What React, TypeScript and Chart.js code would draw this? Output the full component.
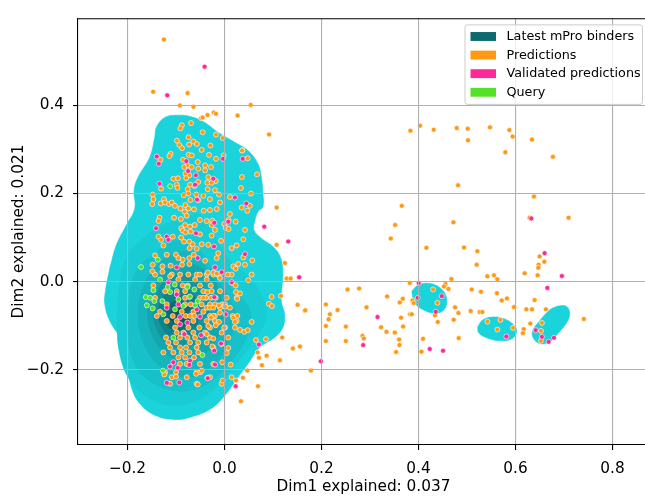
import React, { useEffect, useRef } from "react";
import { Chart, registerables } from "chart.js";

Chart.register(...registerables);

type P = [number, number];

// ---------- axes ----------
const xLimits: P = [-0.302, 0.875];
const yLimits: P = [-0.3713, 0.5982];
const xTickValues = [-0.2, 0, 0.2, 0.4, 0.6, 0.8];
const xTickLabels = ["−0.2", "0.0", "0.2", "0.4", "0.6", "0.8"];
const yTickValues = [-0.2, 0, 0.2, 0.4];
const yTickLabels = ["−0.2", "0.0", "0.2", "0.4"];
const xTitle = "Dim1 explained: 0.037";
const yTitle = "Dim2 explained: 0.021";

// ---------- legend ----------
const seriesNames = ["Latest mPro binders", "Predictions", "Validated predictions", "Query"];
const seriesColors = ["#0c6a6e", "#ff9914", "#ff2896", "#55e128"];

// ---------- KDE of "Latest mPro binders" (filled contour levels, outer -> inner) ----------
const kdeLevelColors = ["#1ad3db", "#19cbd3", "#18c1c9", "#16b5bd", "#14a6ae", "#12959d", "#108289", "#0e6d74", "#0c585e"];

const kdeLevel1: P[] = [
  [-0.2364, 0.0307], [-0.2228, 0.0834], [-0.2022, 0.1285], [-0.1849, 0.166], [-0.1864, 0.2074], [-0.1781, 0.2374],
  [-0.154, 0.2825], [-0.1437, 0.3276], [-0.1404, 0.3502], [-0.1231, 0.3727], [-0.0958, 0.3779], [-0.0684, 0.3743],
  [-0.0408, 0.3614], [-0.0134, 0.3389], [0.021, 0.3163], [0.0484, 0.2976], [0.069, 0.2674], [0.0758, 0.2374],
  [0.0793, 0.1998], [0.0793, 0.1698], [0.069, 0.1585], [0.0622, 0.136], [0.0607, 0.1172], [0.0758, 0.0983],
  [0.1034, 0.0758], [0.117, 0.0496], [0.1205, 0.0158], [0.1184, -0.0144], [0.117, -0.0444], [0.124, -0.0744],
  [0.1205, -0.1046], [0.1034, -0.1272], [0.0725, -0.1497], [0.0484, -0.1871], [0.0278, -0.2174], [0.0037, -0.2548],
  [-0.0272, -0.2886], [-0.0684, -0.3076], [-0.1026, -0.3134], [-0.1437, -0.3037], [-0.1746, -0.2773], [-0.1919, -0.2399],
  [-0.1987, -0.1948], [-0.2022, -0.1497], [-0.2193, -0.1195], [-0.2364, -0.0895], [-0.2467, -0.0519], [-0.2455, -0.0219],
];
const kdeBlobA: P[] = [
  [0.3861, -0.0219], [0.3985, -0.0083], [0.4191, -0.0038], [0.4397, -0.0106], [0.4541, -0.0264],
  [0.4582, -0.0489], [0.45, -0.067], [0.4314, -0.0715], [0.4108, -0.0647], [0.3923, -0.0489],
];
const kdeBlobB: P[] = [
  [0.522, -0.103], [0.5323, -0.0873], [0.5529, -0.0805], [0.5776, -0.085], [0.5962, -0.0985],
  [0.6023, -0.1143], [0.592, -0.1301], [0.5673, -0.1346], [0.5406, -0.1278], [0.5241, -0.1166],
];
const kdeBlobC: P[] = [
  [0.6868, -0.0557], [0.7033, -0.0557], [0.7115, -0.0692], [0.7074, -0.0895], [0.6868, -0.1188], [0.6703, -0.1369],
  [0.6518, -0.1414], [0.6374, -0.1301], [0.6353, -0.1121], [0.6497, -0.0895], [0.6703, -0.0647],
];
const kdeLevel2: P[] = [
  [-0.2214, -0.0782], [-0.2152, 0.0007], [-0.2008, 0.057], [-0.174, 0.0909], [-0.1328, 0.1247], [-0.0813, 0.145],
  [-0.0505, 0.1518], [-0.0196, 0.1021], [0.0072, 0.0525], [0.0484, 0.012], [0.0772, -0.0331], [0.0855, -0.0782],
  [0.0669, -0.1249], [0.034, -0.1737], [-0.0051, -0.2256], [-0.0505, -0.2661], [-0.0999, -0.2812], [-0.1534, -0.2654],
  [-0.1946, -0.2248], [-0.2173, -0.1571],
];
const kdeIsland: P[] = [
  [-0.0236, 0.251], [-0.028, 0.2605], [-0.0391, 0.2645], [-0.0502, 0.2605],
  [-0.0546, 0.251], [-0.0502, 0.2415], [-0.0391, 0.2375], [-0.028, 0.2415],
];
const kdeLevel3: P[] = [
  [-0.1987, -0.0557], [-0.1905, 0.0007], [-0.1699, 0.0413], [-0.1472, 0.0593], [-0.1266, 0.0796], [-0.1019, 0.0909],
  [-0.0731, 0.0976], [-0.0463, 0.0638], [-0.0196, 0.0232], [0.0216, -0.0219], [0.0484, -0.0557], [0.0546, -0.0895],
  [0.0422, -0.1346], [0.0154, -0.1797], [-0.0257, -0.2248], [-0.071, -0.2474], [-0.1225, -0.2429], [-0.1637, -0.218],
  [-0.1884, -0.1797], [-0.1987, -0.1233],
];
const kdeLevel4: P[] = [
  [0.026, -0.075], [0.0, -0.02], [-0.04, 0.035], [-0.076, 0.068], [-0.127, 0.0488], [-0.1643, -0.0035],
  [-0.178, -0.075], [-0.1643, -0.1465], [-0.127, -0.1988], [-0.076, -0.218], [-0.03, -0.195], [0.008, -0.142],
];
const kdeLevel5: P[] = [
  [-0.003, -0.069], [-0.0135, -0.0137], [-0.042, 0.0267], [-0.081, 0.0415], [-0.12, 0.0267], [-0.1485, -0.0137],
  [-0.159, -0.069], [-0.1485, -0.1243], [-0.12, -0.1647], [-0.081, -0.1795], [-0.042, -0.1647], [-0.0135, -0.1243],
];
const kdeLevel6: P[] = [
  [-0.0299, -0.067], [-0.0378, -0.0252], [-0.0592, 0.0053], [-0.0886, 0.0165], [-0.118, 0.0053], [-0.1394, -0.0252],
  [-0.1473, -0.067], [-0.1394, -0.1088], [-0.118, -0.1393], [-0.0886, -0.1505], [-0.0592, -0.1393], [-0.0378, -0.1088],
];
const kdeLevel7: P[] = [
  [-0.0505, -0.0715], [-0.0563, -0.0433], [-0.0721, -0.0227], [-0.0937, -0.0151], [-0.1153, -0.0227], [-0.1311, -0.0433],
  [-0.1369, -0.0715], [-0.1311, -0.0997], [-0.1153, -0.1203], [-0.0937, -0.1279], [-0.0721, -0.1203], [-0.0563, -0.0997],
];
const kdeLevel8: P[] = [
  [-0.0648, -0.078], [-0.0688, -0.061], [-0.0798, -0.0486], [-0.0948, -0.044], [-0.1098, -0.0486], [-0.1208, -0.061],
  [-0.1248, -0.078], [-0.1208, -0.095], [-0.1098, -0.1074], [-0.0948, -0.112], [-0.0798, -0.1074], [-0.0688, -0.095],
];
const kdeLevel9: P[] = [
  [-0.0795, -0.078], [-0.0817, -0.069], [-0.0877, -0.0624], [-0.096, -0.06], [-0.1043, -0.0624], [-0.1103, -0.069],
  [-0.1125, -0.078], [-0.1103, -0.087], [-0.1043, -0.0936], [-0.096, -0.096], [-0.0877, -0.0936], [-0.0817, -0.087],
];

// ---------- Predictions ----------
const predictionsUpper: P[] = [
  [-0.125, 0.55], [-0.147, 0.431], [-0.076, 0.428], [-0.092, 0.4], [-0.064, 0.397], [0.054, 0.401], [-0.022, 0.384],
  [-0.0175, 0.381], [-0.035, 0.378], [-0.048, 0.371], [0.027, 0.377], [0.092, 0.334], [0.037, 0.298], [0.067, 0.2435],
  [0.1075, 0.168],
  [-0.088, 0.355], [-0.069, 0.36], [-0.091, 0.348], [-0.098, 0.32], [-0.074, 0.328], [-0.093, 0.31], [-0.0875, 0.303],
  [-0.073, 0.311], [-0.064, 0.318], [-0.074, 0.288], [-0.0675, 0.2865], [-0.111, 0.29], [-0.1137, 0.285], [-0.132, 0.2765],
  [-0.0855, 0.2765], [-0.0766, 0.264], [-0.083, 0.26], [-0.0675, 0.26], [-0.0725, 0.2413], [-0.0807, 0.245],
  [-0.1054, 0.2336], [-0.0958, 0.2345], [-0.079, 0.235], [-0.1308, 0.211], [-0.0985, 0.22], [-0.097, 0.213], [-0.071, 0.22],
  [-0.062, 0.217], [-0.0758, 0.2097], [-0.148, 0.1975], [-0.0745, 0.1998], [-0.084, 0.196], [-0.058, 0.1975],
  [-0.1466, 0.187], [-0.1246, 0.187], [-0.0704, 0.185], [-0.149, 0.176], [-0.1314, 0.1773], [-0.1225, 0.1795],
  [-0.1143, 0.176], [-0.1087, 0.1795], [-0.102, 0.172], [-0.0807, 0.1736], [-0.091, 0.166], [-0.0745, 0.166],
  [-0.0628, 0.164], [-0.082, 0.1585], [-0.078, 0.1495], [-0.09, 0.142], [-0.134, 0.145], [-0.136, 0.1375], [-0.104, 0.145],
  [-0.0813, 0.1285], [-0.089, 0.121], [-0.071, 0.1247], [-0.0614, 0.1285], [-0.086, 0.1157], [-0.08, 0.1118],
  [-0.0696, 0.1134], [-0.136, 0.102], [-0.1067, 0.102], [-0.1308, 0.0947], [-0.0834, 0.0909], [-0.0896, 0.0999],
  [-0.0725, 0.0909], [-0.0655, 0.0848], [-0.0717, 0.0758], [-0.126, 0.0819], [-0.0573, 0.0744], [-0.143, 0.0593],
  [-0.119, 0.0609], [-0.0999, 0.0609], [-0.095, 0.0532], [-0.086, 0.0496], [-0.0725, 0.0532], [-0.0634, 0.0609],
  [-0.148, 0.0383], [-0.128, 0.0345], [-0.111, 0.036], [-0.0875, 0.0383], [-0.0725, 0.0397],
  [-0.045, 0.3727], [-0.045, 0.339], [-0.0175, 0.3337], [-0.0037, 0.326], [-0.029, 0.309], [-0.057, 0.3125], [-0.047, 0.299],
  [-0.032, 0.2877], [-0.0016, 0.2864], [-0.0175, 0.2787], [0.036, 0.2976], [0.0478, 0.28], [-0.055, 0.2713], [-0.04, 0.2638],
  [-0.0278, 0.26], [-0.04, 0.2525], [-0.054, 0.256], [-0.0334, 0.2374], [-0.018, 0.2284], [-0.0354, 0.2246],
  [-0.0264, 0.2246], [0.036, 0.2374], [-0.054, 0.2262], [0.034, 0.2126], [-0.0346, 0.2097], [-0.0196, 0.2074],
  [-0.0113, 0.1975], [0.0546, 0.1998], [0.0113, 0.1923], [-0.0437, 0.1946], [-0.03, 0.1871], [-0.0093, 0.1795],
  [-0.054, 0.1849], [0.0354, 0.1682], [0.047, 0.1608], [0.0525, 0.172], [-0.016, 0.1646], [-0.03, 0.1623],
  [-0.0428, 0.1608], [0.0113, 0.1533], [-0.0505, 0.1398], [-0.0367, 0.1375], [-0.0251, 0.1382], [0.0086, 0.1398],
  [-0.0004, 0.1308], [-0.0264, 0.1285], [0.0025, 0.1224], [0.0086, 0.1195], [-0.0196, 0.1172], [0.023, 0.136],
  [0.0422, 0.1172], [-0.0505, 0.1073], [-0.0264, 0.1044], [-0.0072, 0.0924], [0.0387, 0.096], [-0.047, 0.0848],
  [-0.0334, 0.0834], [0.0148, 0.0758], [0.0251, 0.0819], [0.0387, 0.0548], [0.0573, 0.048], [-0.0128, 0.0645],
  [-0.016, 0.0532], [-0.04, 0.0473], [0.0181, 0.0345], [0.0284, 0.0397], [0.023, 0.0293], [0.0422, 0.0383],
  [0.1246, 0.042], [0.1075, 0.0834],
];
const predictionsCore: P[] = [
  [-0.1431, 0.0158], [-0.1087, 0.0158], [-0.0916, 0.0158], [-0.0745, 0.0158], [-0.0573, 0.0158], [-0.0505, 0.0158],
  [-0.0367, 0.0158], [-0.0231, 0.0158], [-0.0128, 0.0158], [0.0148, 0.0158], [0.056, 0.0158],
  [-0.0951, 0.0045], [-0.0607, 0.0045], [-0.0367, 0.0045],
  [-0.1466, -0.009], [-0.0861, -0.009], [-0.0758, -0.009], [-0.0505, -0.009], [-0.0284, -0.009],
  [-0.1225, -0.0219], [-0.0984, -0.0219], [-0.0813, -0.0219], [-0.0437, -0.0219], [-0.0264, -0.0219], [-0.0093, -0.0219],
  [-0.1431, -0.037], [-0.0813, -0.037], [-0.0505, -0.037], [-0.0381, -0.037], [-0.0181, -0.037], [0.0045, -0.037], [0.0251, -0.037],
  [-0.119, -0.0519], [-0.0813, -0.0519], [-0.0696, -0.0519], [-0.047, -0.0519], [-0.0299, -0.0519], [-0.0196, -0.0519],
  [-0.0045, -0.0519], [0.001, -0.0519],
  [-0.0367, -0.0595], [-0.0299, -0.0595], [-0.0231, -0.0595], [-0.0093, -0.0595],
  [-0.1328, -0.0685], [-0.0881, -0.0685], [-0.0643, -0.0685], [-0.0437, -0.0685],
  [-0.1396, -0.0782], [-0.1067, -0.0782], [-0.0799, -0.0782], [-0.071, -0.0782], [-0.0622, -0.0782], [-0.0299, -0.0782],
  [-0.0196, -0.0782], [0.0169, -0.0782],
  [-0.119, -0.0895], [-0.0984, -0.0895], [-0.0643, -0.0895], [-0.0367, -0.0895], [-0.0196, -0.0895], [0.0251, -0.0895],
  [-0.1019, -0.1046], [-0.0745, -0.1046], [-0.0519, -0.1046], [-0.0299, -0.1046], [0.001, -0.1046], [0.0216, -0.1046],
  [-0.0984, -0.1159], [-0.0848, -0.1159], [-0.0643, -0.1159], [-0.0402, -0.1159], [-0.0058, -0.1159],
  [-0.1205, -0.1272], [-0.0916, -0.1272], [-0.0766, -0.1272], [-0.0607, -0.1272], [-0.0299, -0.1272], [0.0078, -0.1272],
  [-0.1157, -0.1384], [-0.0999, -0.1384], [-0.071, -0.1384], [-0.054, -0.1384], [-0.0367, -0.1384],
  [-0.1122, -0.1497], [-0.0916, -0.1497], [-0.0793, -0.1497], [-0.0573, -0.1497], [-0.0231, -0.1497],
  [-0.126, -0.161], [-0.1054, -0.161], [-0.0881, -0.161], [-0.0725, -0.161], [-0.054, -0.161],
  [-0.0951, -0.1723], [-0.0813, -0.1723], [-0.0628, -0.1723],
  [-0.0916, -0.1871], [-0.0778, -0.1871], [-0.0505, -0.1871], [-0.0231, -0.1871],
  [-0.1225, -0.2061], [-0.0999, -0.2061], [-0.0573, -0.2061], [-0.0505, -0.2061],
  [-0.1087, -0.2174], [-0.0778, -0.2174], [-0.0299, -0.2174],
  [-0.1122, -0.2322], [-0.0573, -0.2322], [-0.0058, -0.2322],
  [-0.1487, 0.0232], [-0.128, 0.022], [-0.112, 0.012], [-0.124, -0.211], [-0.0999, -0.216],
  [-0.0346, 0.0206], [-0.023, 0.0206], [-0.016, 0.018], [0.0066, 0.0158], [-0.0093, 0.0081], [0.016, -0.003],
  [0.023, -0.009], [0.049, 0.003], [0.0237, -0.024], [0.032, -0.027], [0.0264, -0.0392], [-0.0354, -0.024],
  [-0.0437, -0.037], [-0.0278, -0.037], [-0.0113, -0.0541], [0.001, -0.0573], [0.0113, -0.0595], [0.0264, -0.078],
  [0.0181, -0.0821], [0.0216, -0.0918], [0.032, -0.1098], [0.0408, -0.1143], [0.0478, -0.1105], [-0.0093, -0.0708],
  [-0.023, -0.078], [-0.0278, -0.082], [-0.0113, -0.0918], [-0.018, -0.0992], [-0.0004, -0.1046], [-0.0334, -0.1008],
  [-0.0367, -0.1195], [-0.023, -0.1294], [-0.0058, -0.142], [0.0078, -0.151], [-0.0251, -0.1475], [0.0045, -0.1623],
  [-0.0045, -0.1835], [0.0128, -0.1887], [0.0148, -0.2174], [-0.0037, -0.2248], [-0.0354, -0.2187], [-0.047, -0.2023],
  [-0.055, -0.2338], [-0.0587, -0.2097],
];
const predictionsRight: P[] = [
  [0.128, 0.0068], [0.1363, 0.0068], [0.2537, -0.018], [0.0972, -0.0347], [0.1163, -0.0325], [0.0916, -0.0505],
  [0.0978, -0.0557], [0.1507, -0.0528], [0.1658, -0.0663], [0.209, -0.0519], [0.2331, -0.0647], [0.2173, -0.0744],
  [0.2146, -0.0857], [0.209, -0.1008], [0.2502, -0.1024], [0.209, -0.1353], [0.2502, -0.1353], [0.056, -0.0918],
  [0.119, -0.1272], [0.0649, -0.133], [0.1555, -0.1475], [0.141, -0.152], [0.0684, -0.161], [0.0869, -0.1684],
  [0.071, -0.173], [0.1143, -0.179], [0.0772, -0.19], [0.1781, -0.2023], [0.047, -0.2023], [0.0381, -0.2187],
  [0.069, -0.2377], [0.034, -0.2722], [0.0855, -0.1308], [0.0237, -0.2248],
  [0.3834, 0.3427], [0.4032, 0.354], [0.4314, 0.345], [0.4788, 0.3486], [0.5015, 0.3472], [0.502, 0.3209],
  [0.5474, 0.3502], [0.5873, 0.3441], [0.5941, 0.3292], [0.579, 0.2938], [0.6339, 0.3224], [0.6771, 0.2832],
  [0.4815, 0.2187], [0.3655, 0.172], [0.3518, 0.1285], [0.3429, 0.0976], [0.472, 0.1344], [0.638, 0.193],
  [0.629, 0.145], [0.7094, 0.145], [0.4163, 0.0767], [0.4938, 0.0773], [0.5213, 0.069], [0.5199, 0.0383],
  [0.6497, 0.057], [0.6594, 0.045], [0.6476, 0.0383], [0.647, 0.0315], [0.6188, 0.0187], [0.6456, 0.0142],
  [0.542, 0.012], [0.5556, 0.0142], [0.5626, 0.0052], [0.4679, 0.0059], [0.382, -0.0032], [0.4555, -0.0054],
  [0.4526, -0.0113], [0.4617, -0.0167], [0.43, -0.018], [0.5097, -0.018], [0.5288, -0.0234], [0.5618, -0.0264],
  [0.5715, -0.0428], [0.5824, -0.0383], [0.6394, -0.0422], [0.3353, -0.0338], [0.2776, -0.0158], [0.3676, -0.0392],
  [0.3614, -0.0474], [0.3876, -0.0428], [0.3902, -0.0489], [0.439, -0.0483], [0.4753, -0.0586], [0.2928, -0.0586],
  [0.1664, -0.0654], [0.3229, -0.1037], [0.334, -0.1143], [0.3511, -0.1159], [0.3641, -0.0821], [0.3682, -0.1024],
  [0.3826, -0.0744], [0.386, -0.0744], [0.4341, -0.0767], [0.4397, -0.0918], [0.4726, -0.0866], [0.4823, -0.0715],
  [0.2846, -0.1233], [0.2873, -0.1294], [0.36, -0.1317], [0.3608, -0.1443], [0.3538, -0.1601], [0.4094, -0.1301],
  [0.4061, -0.1594], [0.4829, -0.1285], [0.5076, -0.067], [0.5262, -0.0692], [0.5317, -0.0692], [0.542, -0.0911],
  [0.5688, -0.0873], [0.5626, -0.1091], [0.5947, -0.1053], [0.5968, -0.058], [0.6168, -0.1082], [0.6153, -0.1172],
  [0.6223, -0.0631], [0.6339, -0.0631], [0.6305, -0.0956], [0.6545, -0.094], [0.6524, -0.1121], [0.6627, -0.0631],
  [0.6524, -0.1346], [0.741, -0.085],
];

// ---------- Validated predictions ----------
const validated: P[] = [
  [-0.041, 0.488], [-0.118, 0.423], [-0.1396, 0.284], [-0.1355, 0.2675], [-0.0787, 0.2735], [-0.075, 0.251],
  [-0.059, 0.2413], [-0.134, 0.2223], [-0.0607, 0.22], [-0.0566, 0.186], [-0.141, 0.121], [-0.0587, 0.1096],
  [-0.119, 0.102], [-0.1157, 0.0947], [-0.0552, 0.0532], [-0.0985, 0.0322],
  [-0.003, 0.2787], [0.0375, 0.2787], [-0.023, 0.2336], [0.0216, 0.1908], [0.0449, 0.1773], [0.0078, 0.136],
  [0.082, 0.1247], [0.0422, 0.0622], [-0.0196, 0.0322], [0.1314, 0.0909],
  [0.154, 0.0097], [0.071, -0.143], [0.1987, -0.1813],
  [0.0148, -0.0016], [0.0025, -0.0744], [-0.021, -0.157], [-0.0196, -0.1887], [0.023, -0.2377],
  [-0.0058, 0.021], [-0.1157, -0.0016], [-0.0985, -0.0293], [-0.095, -0.0519], [-0.119, -0.0595], [-0.0573, -0.0631],
  [-0.0725, -0.0354], [-0.021, -0.0354], [-0.0917, -0.0805], [-0.0766, -0.0933], [-0.0917, -0.097], [-0.0505, -0.0798],
  [-0.0484, -0.1218], [-0.0828, -0.1195], [-0.0072, -0.1407], [-0.1054, -0.1835], [-0.071, -0.1797], [-0.0725, -0.1894],
  [-0.1122, -0.1932], [-0.0964, -0.1962], [-0.0346, -0.2196], [-0.119, -0.23], [-0.093, -0.2293], [-0.021, 0.1336],
  [-0.0216, 0.0796],
  [0.6326, 0.1434], [0.66, 0.0645], [0.6956, 0.0126], [0.6656, -0.0144], [0.4005, -0.0032], [0.4479, -0.0331],
  [0.3985, -0.037], [0.3155, -0.0805], [0.4355, -0.0685], [0.2859, -0.1443], [0.4232, -0.1533], [0.4506, -0.1572],
  [0.5811, -0.1249], [0.6415, -0.1105], [0.6545, -0.1256], [0.6683, -0.1369], [0.6792, -0.1278],
];

// ---------- Query ----------
const query: P[] = [
  [-0.112, 0.2165], [-0.1376, 0.0496], [-0.172, 0.0329], [-0.1328, 0.0045], [-0.1466, -0.0196], [-0.1623, -0.0354],
  [-0.1534, -0.037], [-0.16, -0.054], [-0.148, -0.061], [-0.128, -0.0444], [-0.1122, -0.024], [-0.1026, -0.0068],
  [-0.0766, -0.0122], [-0.062, -0.018], [-0.095, -0.0406], [-0.0848, -0.0557], [-0.126, -0.0744], [-0.0552, -0.0444],
  [-0.1054, -0.1272], [-0.0457, -0.1669], [-0.127, -0.2023], [-0.117, -0.0122], [-0.071, -0.0338], [-0.1446, -0.0444],
  [-0.0607, -0.054], [-0.102, -0.0631],
];

const contourSets: { pts: P[]; level: number }[] = [
  { pts: kdeLevel1, level: 0 },
  { pts: kdeBlobA, level: 0 },
  { pts: kdeBlobB, level: 0 },
  { pts: kdeBlobC, level: 0 },
  { pts: kdeLevel2, level: 1 },
  { pts: kdeIsland, level: 1 },
  { pts: kdeLevel3, level: 2 },
  { pts: kdeLevel4, level: 3 },
  { pts: kdeLevel5, level: 4 },
  { pts: kdeLevel6, level: 5 },
  { pts: kdeLevel7, level: 6 },
  { pts: kdeLevel8, level: 7 },
  { pts: kdeLevel9, level: 8 },
];

const FONT = '"DejaVu Sans", "Liberation Sans", sans-serif';

const toXY = (pts: P[]) => pts.map(([x, y]) => ({ x, y }));

const framePlugin = {
  id: "frameAndLegend",
  afterDraw(chart: any) {
    const { ctx, chartArea: a } = chart;
    ctx.save();
    ctx.strokeStyle = "#000";
    ctx.lineWidth = 1.1;
    ctx.beginPath();
    ctx.moveTo(a.left, a.top + 0.5);
    ctx.lineTo(a.right, a.top + 0.5);
    ctx.moveTo(a.right - 0.5, a.top);
    ctx.lineTo(a.right - 0.5, a.bottom);
    ctx.stroke();

    // legend box (upper right)
    const bw = 177.5;
    const bh = 79.5;
    const bx = a.right - 6.4 - bw;
    const by = a.top + 6.7;
    const r = 2.5;
    ctx.beginPath();
    ctx.moveTo(bx + r, by);
    ctx.lineTo(bx + bw - r, by);
    ctx.arcTo(bx + bw, by, bx + bw, by + r, r);
    ctx.lineTo(bx + bw, by + bh - r);
    ctx.arcTo(bx + bw, by + bh, bx + bw - r, by + bh, r);
    ctx.lineTo(bx + r, by + bh);
    ctx.arcTo(bx, by + bh, bx, by + bh - r, r);
    ctx.lineTo(bx, by + r);
    ctx.arcTo(bx, by, bx + r, by, r);
    ctx.closePath();
    ctx.fillStyle = "rgba(255,255,255,0.8)";
    ctx.fill();
    ctx.strokeStyle = "#cccccc";
    ctx.lineWidth = 1;
    ctx.stroke();

    ctx.font = `12.75px ${FONT}`;
    ctx.textBaseline = "middle";
    ctx.textAlign = "left";
    seriesNames.forEach((name, i) => {
      const cy = by + 11.6 + i * 18.6;
      ctx.fillStyle = seriesColors[i];
      ctx.fillRect(bx + 5.5, cy - 4.45, 25.5, 8.9);
      ctx.fillStyle = "#000";
      ctx.fillText(name, bx + 41.5, cy + 0.5);
    });
    ctx.restore();
  },
};

export default function App() {
  const ref = useRef<HTMLCanvasElement>(null);

  useEffect(() => {
    const canvas = ref.current;
    if (!canvas) return;

    const contourDatasets = contourSets.map((c) => ({
      type: "line" as const,
      data: toXY([...c.pts, c.pts[0]]),
      backgroundColor: kdeLevelColors[c.level],
      borderColor: kdeLevelColors[c.level],
      borderWidth: 0.6,
      pointRadius: 0,
      fill: "shape",
      tension: 0.4,
      showLine: true,
      order: 100 - c.level,
    }));

    const pointStyle = (color: string, order: number) => ({
      backgroundColor: color,
      borderColor: "#ffffff",
      borderWidth: 0.6,
      pointRadius: 2.5,
      pointHoverRadius: 2.5,
      order,
    });

    const chart = new Chart(canvas, {
      type: "scatter",
      data: {
        datasets: [
          ...(contourDatasets as any[]),
          { type: "scatter", label: seriesNames[1], data: toXY([...predictionsUpper, ...predictionsCore, ...predictionsRight]), ...pointStyle(seriesColors[1], 3) },
          { type: "scatter", label: seriesNames[2], data: toXY(validated), ...pointStyle(seriesColors[2], 2) },
          { type: "scatter", label: seriesNames[3], data: toXY(query), ...pointStyle(seriesColors[3], 1) },
        ],
      },
      options: {
        responsive: false,
        devicePixelRatio: 1,
        animation: false,
        events: [],
        layout: { padding: { top: 15, left: 0, right: 3, bottom: 0 } },
        plugins: { legend: { display: false }, tooltip: { enabled: false } },
        scales: {
          x: {
            type: "linear",
            min: xLimits[0],
            max: xLimits[1],
            afterBuildTicks: (scale: any) => {
              scale.ticks = xTickValues.map((v) => ({ value: v }));
            },
            afterFit: (scale: any) => {
              scale.height = 53;
            },
            ticks: {
              callback: (_v: any, i: number) => xTickLabels[i],
              font: { family: FONT, size: 15.3 },
              color: "#000",
              padding: 9.5,
              maxRotation: 0,
            },
            grid: { color: "#b0b0b0", lineWidth: 1.1, tickLength: 5, tickColor: "#000", tickWidth: 1.1, z: 1 },
            border: { display: true, color: "#000", width: 1.1, z: 2 },
            title: {
              display: true,
              text: xTitle,
              font: { family: FONT, size: 15.3 },
              color: "#000",
              padding: { top: 0, bottom: 1.7 },
            },
          },
          y: {
            type: "linear",
            min: yLimits[0],
            max: yLimits[1],
            afterBuildTicks: (scale: any) => {
              scale.ticks = yTickValues.map((v) => ({ value: v }));
            },
            afterFit: (scale: any) => {
              scale.width = 78;
            },
            ticks: {
              callback: (_v: any, i: number) => yTickLabels[i],
              font: { family: FONT, size: 15.3 },
              color: "#000",
              padding: 9,
            },
            grid: { color: "#b0b0b0", lineWidth: 1.1, tickLength: 5, tickColor: "#000", tickWidth: 1.1, z: 1 },
            border: { display: true, color: "#000", width: 1.1, z: 2 },
            title: {
              display: true,
              text: yTitle,
              font: { family: FONT, size: 15.3 },
              color: "#000",
              padding: { top: 10, bottom: 0 },
            },
          },
        },
      } as any,
      plugins: [framePlugin],
    } as any);

    return () => chart.destroy();
  }, []);

  return (
    <div style={{ position: "fixed", left: 0, top: 0, width: 645, height: 498, overflow: "hidden", background: "#ffffff" }}>
      <canvas ref={ref} width={652} height={498} style={{ display: "block", width: 652, height: 498 }} />
    </div>
  );
}
